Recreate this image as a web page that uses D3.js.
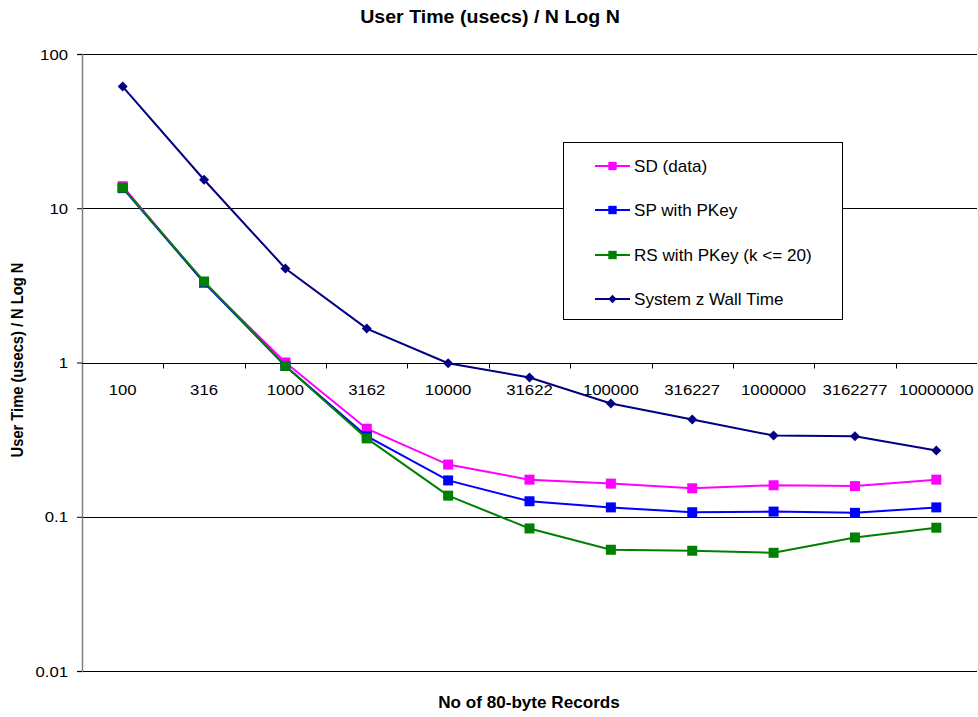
<!DOCTYPE html>
<html>
<head>
<meta charset="utf-8">
<script src="https://cdn.jsdelivr.net/npm/d3@7"></script>
<style>
  html, body { margin: 0; padding: 0; background: #fff; }
  svg { display: block; font-family: "Liberation Sans", Arial, sans-serif; }
</style>
</head>
<body>
<svg id="chart" width="978" height="717"></svg>
<script>
// Record counts (category axis)
const categories = ["100", "316", "1000", "3162", "10000", "31622", "100000", "316227", "1000000", "3162277", "10000000"];

// User time (usecs) / N log N for each configuration
const sdData      = [13.9, 3.30, 1.00, 0.372, 0.218, 0.174, 0.164, 0.153, 0.160, 0.158, 0.174];
const spWithPKey  = [13.5, 3.30, 0.95, 0.333, 0.172, 0.126, 0.115, 0.107, 0.108, 0.106, 0.115];
const rsWithPKey  = [13.6, 3.35, 0.95, 0.322, 0.137, 0.084, 0.0611, 0.0602, 0.0584, 0.0734, 0.0849];
const systemZWall = [61.5, 15.3, 4.07, 1.66, 0.99, 0.80, 0.542, 0.427, 0.336, 0.332, 0.269];

const yTickValues = [0.01, 0.1, 1, 10, 100];
const yTickLabels = ["0.01", "0.1", "1", "10", "100"];

const seriesNames  = ["SD (data)", "SP with PKey", "RS with PKey (k <= 20)", "System z Wall Time"];
const seriesValues = [sdData, spWithPKey, rsWithPKey, systemZWall];
const seriesColors = ["#FF00FF", "#0000FF", "#008000", "#000080"];
const seriesShapes = ["square", "square", "square", "diamond"];

(function () {
  const svg = d3.select("#chart");
  const plotLeft = 82, plotRight = 977, plotTop = 54, plotBottom = 671;

  const x = d3.scaleBand().domain(categories).range([plotLeft, plotRight]);
  const y = d3.scaleLog().domain([0.01, 100]).range([plotBottom, plotTop]);
  const cx = c => x(c) + x.bandwidth() / 2;

  // Text helper: horizontally widened glyphs
  function label(g, txt, px, py, opts) {
    const sx = opts.sx || 1;
    const t = g.append("text")
      .attr("transform", `translate(${px},${py}) scale(${sx},1)` + (opts.rotate ? ` rotate(${opts.rotate})` : ""))
      .attr("text-anchor", opts.anchor || "start")
      .attr("font-size", opts.size)
      .attr("font-weight", opts.bold ? "bold" : "normal")
      .attr("fill", "#000")
      .text(txt);
    if (opts.dy) t.attr("dy", opts.dy);
    return t;
  }

  const marker = (shape, size) => shape === "diamond"
    ? d3.symbol().type(d3.symbolSquare).size(size * 0.5)()
    : d3.symbol().type(d3.symbolSquare).size(size)();

  // Horizontal gridlines
  svg.append("g").selectAll("line")
    .data(yTickValues.filter(v => v !== 1))
    .join("line")
    .attr("x1", plotLeft).attr("x2", plotRight)
    .attr("y1", d => Math.round(y(d)) + 0.5).attr("y2", d => Math.round(y(d)) + 0.5)
    .attr("stroke", "#000").attr("stroke-width", 1);

  // Y axis
  const yAxis = d3.axisLeft(y).tickValues(yTickValues).tickFormat(() => "").tickSize(5);
  const yg = svg.append("g").attr("transform", `translate(${plotLeft},0)`).call(yAxis);
  yg.select(".domain").attr("stroke", "#808080").attr("stroke-width", 1.5);
  yg.selectAll(".tick line").attr("stroke", "#000");
  yTickValues.forEach((v, i) => {
    label(svg, yTickLabels[i], 68, y(v), { size: 15.5, sx: 1.08, anchor: "end", dy: "0.36em" });
  });

  // X axis crossing at 1
  const xAxisY = Math.round(y(1)) + 0.5;
  svg.append("line")
    .attr("x1", plotLeft).attr("x2", plotRight).attr("y1", xAxisY).attr("y2", xAxisY)
    .attr("stroke", "#000").attr("stroke-width", 1);
  svg.append("g").selectAll("line")
    .data(categories.slice(1))
    .join("line")
    .attr("x1", d => Math.round(x(d)) + 0.5).attr("x2", d => Math.round(x(d)) + 0.5)
    .attr("y1", xAxisY).attr("y2", xAxisY + 5)
    .attr("stroke", "#000");
  categories.forEach(c => {
    label(svg, c, cx(c), xAxisY + 31, { size: 15.5, sx: 1.08, anchor: "middle" });
  });

  // Series lines and markers
  const line = d3.line().x((d, i) => cx(categories[i])).y(d => y(d));
  seriesValues.forEach((vals, s) => {
    const g = svg.append("g");
    g.append("path").datum(vals)
      .attr("d", line).attr("fill", "none")
      .attr("stroke", seriesColors[s]).attr("stroke-width", 2);
    g.selectAll("path.m").data(vals).join("path")
      .attr("class", "m")
      .attr("d", marker(seriesShapes[s], 100))
      .attr("transform", (d, i) => `translate(${cx(categories[i])},${y(d)})` + (seriesShapes[s] === "diamond" ? " rotate(45)" : ""))
      .attr("fill", seriesColors[s]);
  });

  // Legend
  const lg = svg.append("g");
  lg.append("rect")
    .attr("x", 563.5).attr("y", 142.5).attr("width", 279).attr("height", 177)
    .attr("fill", "#fff").attr("stroke", "#000").attr("stroke-width", 1);
  const rowY = [166, 210, 255, 299];
  seriesNames.forEach((name, s) => {
    const ry = rowY[s];
    lg.append("line").attr("x1", 595).attr("x2", 630).attr("y1", ry).attr("y2", ry)
      .attr("stroke", seriesColors[s]).attr("stroke-width", 2);
    lg.append("path")
      .attr("d", marker(seriesShapes[s], 70))
      .attr("transform", `translate(612.5,${ry})` + (seriesShapes[s] === "diamond" ? " rotate(45)" : ""))
      .attr("fill", seriesColors[s]);
    label(lg, name, 634, ry, { size: 16, sx: 1.07, dy: "0.36em" });
  });

  // Titles
  label(svg, "User Time (usecs) / N Log N", 490, 23, { size: 17.5, sx: 1.12, bold: true, anchor: "middle" });
  label(svg, "User Time (usecs) / N Log N", 23, 360, { size: 14.7, sx: 1.12, bold: true, anchor: "middle", rotate: -90 });
  label(svg, "No of 80-byte Records", 529, 708, { size: 16.3, sx: 1.05, bold: true, anchor: "middle" });
})();
</script>
</body>
</html>
